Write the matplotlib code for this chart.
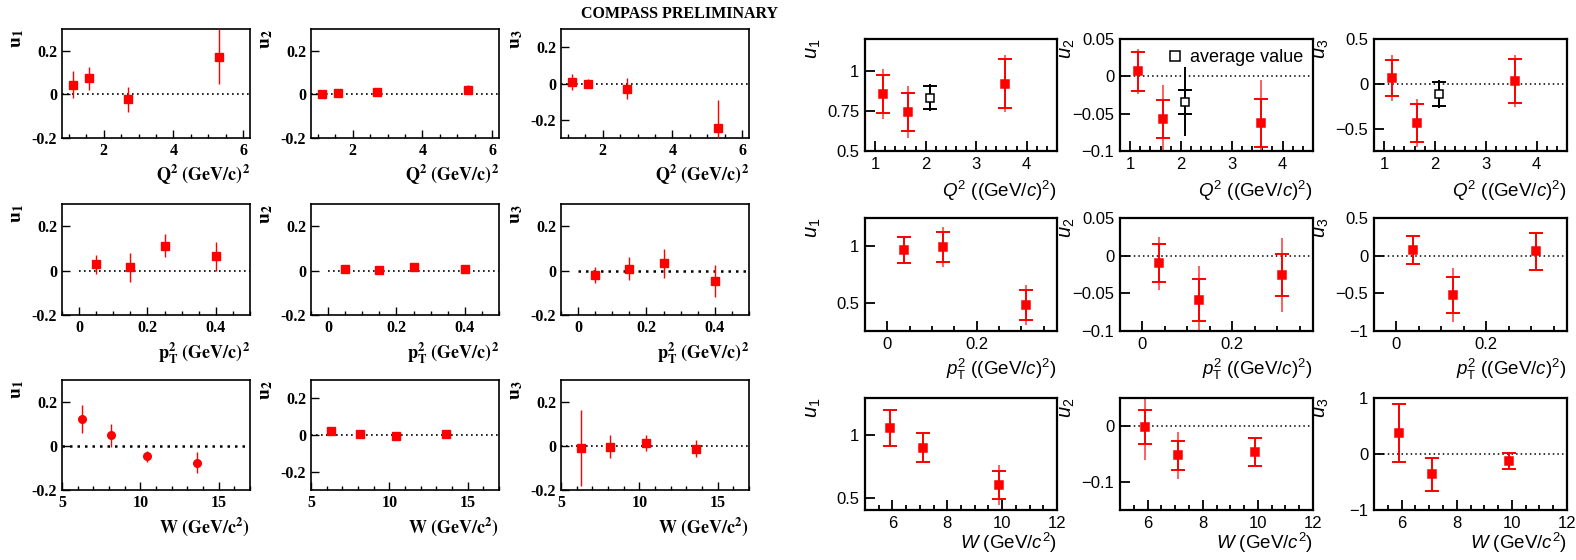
import matplotlib
matplotlib.use("Agg")
import matplotlib.pyplot as plt
from matplotlib.lines import Line2D
from matplotlib.ticker import FuncFormatter, MultipleLocator

# ---------------- left block (COMPASS preliminary) ----------------
q2_left = [1.13, 1.58, 2.71, 5.3]
u1_q2_left = [0.044, 0.073, -0.023, 0.173]
u1_q2_left_err = [0.062, 0.053, 0.057, 0.126]
u2_q2_left = [0.003, 0.008, 0.011, 0.022]
u2_q2_left_err = [0.008, 0.008, 0.008, 0.02]
u3_q2_left = [0.009, 0.0, -0.028, -0.243]
u3_q2_left_err = [0.045, 0.027, 0.06, 0.15]

pt2_left = [0.05, 0.15, 0.25, 0.4]
u1_pt2_left = [0.028, 0.014, 0.113, 0.064]
u1_pt2_left_err = [0.042, 0.065, 0.053, 0.065]
u2_pt2_left = [0.007, 0.004, 0.017, 0.005]
u2_pt2_left_err = [0.007, 0.007, 0.008, 0.01]
u3_pt2_left = [-0.021, 0.009, 0.032, -0.046]
u3_pt2_left_err = [0.035, 0.052, 0.065, 0.073]

w_left = [6.3, 8.1, 10.4, 13.6]
u1_w_left = [0.122, 0.049, -0.046, -0.075]
u1_w_left_err = [0.065, 0.052, 0.025, 0.046]
u2_w_left = [0.022, 0.005, -0.004, 0.008]
u2_w_left_err = [0.01, 0.008, 0.008, 0.008]
u3_w_left = [-0.009, -0.003, 0.014, -0.012]
u3_w_left_err = [0.174, 0.053, 0.037, 0.038]

# ---------------- right block (stat + total errors) ----------------
q2_right = [1.16, 1.65, 3.58]
q2_avg = [2.08]
u1_q2 = [0.858, 0.742, 0.92]
u1_q2_stat = [0.118, 0.118, 0.153]
u1_q2_tot = [0.155, 0.163, 0.177]
u1_q2_avg, u1_q2_avg_stat, u1_q2_avg_tot = [0.833], [0.071], [0.085]
u2_q2 = [0.007, -0.057, -0.063]
u2_q2_stat = [0.026, 0.025, 0.032]
u2_q2_tot = [0.03, 0.045, 0.058]
u2_q2_avg, u2_q2_avg_stat, u2_q2_avg_tot = [-0.034], [0.016], [0.046]
u3_q2 = [0.066, -0.438, 0.036]
u3_q2_stat = [0.2, 0.217, 0.246]
u3_q2_tot = [0.255, 0.27, 0.29]
u3_q2_avg, u3_q2_avg_stat, u3_q2_avg_tot = [-0.117], [0.134], [0.155]

pt2_right = [0.037, 0.125, 0.31]
u1_pt2 = [0.967, 0.991, 0.48]
u1_pt2_stat = [0.115, 0.133, 0.13]
u1_pt2_tot = [0.12, 0.175, 0.18]
u2_pt2 = [-0.010, -0.059, -0.026]
u2_pt2_stat = [0.025, 0.028, 0.028]
u2_pt2_tot = [0.035, 0.045, 0.049]
u3_pt2 = [0.07, -0.522, 0.057]
u3_pt2_stat = [0.186, 0.234, 0.248]
u3_pt2_tot = [0.19, 0.36, 0.26]

w_right = [5.91, 7.1, 9.9]
u1_w = [1.06, 0.90, 0.60]
u1_w_stat = [0.143, 0.117, 0.113]
u1_w_tot = [0.143, 0.117, 0.16]
u2_w = [-0.002, -0.052, -0.046]
u2_w_stat = [0.031, 0.026, 0.025]
u2_w_tot = [0.058, 0.042, 0.027]
u3_w = [0.38, -0.364, -0.125]
u3_w_stat = [0.515, 0.29, 0.135]
u3_w_tot = [0.515, 0.29, 0.135]

W_PX, H_PX = 1576, 560
SERIF = "Liberation Serif"
SANS = "Liberation Sans"
RED = "#ff0000"

plt.rcParams.update({
    "mathtext.fontset": "custom",
    "mathtext.rm": SANS,
    "mathtext.it": SANS + ":italic",
    "mathtext.bf": SANS + ":bold",
    "mathtext.sf": SANS,
})


def px_axes(fig, x0, x1, y0, y1):
    return fig.add_axes([x0 / W_PX, 1 - y1 / H_PX, (x1 - x0) / W_PX, (y1 - y0) / H_PX])


def hyphen_fmt(v, _):
    s = f"{v:.2f}".rstrip("0").rstrip(".")
    return "0" if s in ("-0", "0") else s


def minus_fmt(v, _):
    s = f"{v:.2f}".rstrip("0").rstrip(".")
    if s in ("-0", "0"):
        return "0"
    return s.replace("-", "\u2212")


def style_left(ax, xlim, ylim, xmajor, xminor, xlabel, ylabel, zero_from=None, zero_lw=1.2):
    ax.set_xlim(*xlim)
    ax.set_ylim(*ylim)
    ax.xaxis.set_major_locator(MultipleLocator(xmajor))
    ax.xaxis.set_minor_locator(MultipleLocator(xminor))
    ax.yaxis.set_major_locator(MultipleLocator(0.2))
    ax.xaxis.set_major_formatter(FuncFormatter(hyphen_fmt))
    ax.yaxis.set_major_formatter(FuncFormatter(hyphen_fmt))
    ax.tick_params(which="both", direction="in", top=False, right=False)
    ax.tick_params(which="major", length=6, width=1)
    ax.tick_params(which="minor", length=3, width=1)
    for lab in ax.get_xticklabels() + ax.get_yticklabels():
        lab.set_fontfamily(SERIF)
        lab.set_fontweight("bold")
        lab.set_fontsize(11.5)
    for sp in ax.spines.values():
        sp.set_linewidth(1.2)
    x_start = xlim[0] if zero_from is None else zero_from
    ax.hlines(0, x_start, xlim[1], colors="black", linestyles=(0, (1, 2)), linewidth=zero_lw, zorder=1)
    ax.set_xlabel(xlabel, loc="right", fontsize=13, math_fontfamily="stix", labelpad=3)
    ax.text(-0.24, 1.0, ylabel, transform=ax.transAxes, rotation=90, va="top", ha="center",
            fontsize=14, math_fontfamily="stix")


def style_right(ax, xlim, ylim, xmajor, xminor, yticks, xlabel, ylabel, zero=True, labelpad=5):
    ax.set_xlim(*xlim)
    ax.set_ylim(*ylim)
    ax.xaxis.set_major_locator(MultipleLocator(xmajor))
    ax.xaxis.set_minor_locator(MultipleLocator(xminor))
    ax.set_yticks(yticks)
    ax.xaxis.set_major_formatter(FuncFormatter(minus_fmt))
    ax.yaxis.set_major_formatter(FuncFormatter(minus_fmt))
    ax.tick_params(which="both", direction="in", top=False, right=False)
    ax.tick_params(which="major", length=7, width=1.3, pad=4)
    ax.tick_params(which="minor", length=3.5, width=1.3)
    for lab in ax.get_xticklabels() + ax.get_yticklabels():
        lab.set_fontfamily(SANS)
        lab.set_fontsize(12)
    for sp in ax.spines.values():
        sp.set_linewidth(1.6)
    if zero:
        ax.axhline(0, color="black", linestyle=(0, (1, 2)), linewidth=1.1, zorder=1)
    ax.set_xlabel(xlabel, loc="right", fontsize=13.5, fontfamily=SANS, labelpad=labelpad)
    ax.text(-0.27, 1.0, ylabel, transform=ax.transAxes, rotation=90, va="top", ha="center",
            fontsize=14.5)


def draw_left(ax, x, y, err, marker="s"):
    ax.errorbar(x, y, yerr=err, fmt=marker, color=RED, ms=5.5, elinewidth=1.0, capsize=0,
                zorder=3, clip_on=True)


def draw_right(ax, x, y, stat, tot, color=RED, light="#ff6060", filled=True):
    ax.errorbar(x, y, yerr=tot, fmt="none", ecolor=light, elinewidth=1.4, capsize=0, zorder=2)
    ax.errorbar(x, y, yerr=stat, fmt="none", ecolor=color, elinewidth=1.4, capsize=5,
                capthick=1.4, zorder=3)
    ax.plot(x, y, "s", color=color, ms=6,
            mfc=color if filled else "white", mew=1.1, zorder=4)


fig = plt.figure(figsize=(W_PX / 100, H_PX / 100), dpi=100)

# block geometry (pixels)
lcols = [(62, 250), (311, 499), (561, 749)]
lrows = [(29, 138), (204, 315), (380, 490)]
rcols = [(865, 1057), (1120, 1313), (1374, 1567)]
rrows = [(39, 151), (218, 331), (398, 510)]

lab_q2 = r"$\mathbf{Q^2\ (GeV/c)^2}$"
lab_pt = r"$\mathbf{p_T^2\ (GeV/c)^2}$"
lab_w = r"$\mathbf{W\ (GeV/c^2)}$"
ulabs_left = [r"$\mathbf{u_1}$", r"$\mathbf{u_2}$", r"$\mathbf{u_3}$"]

left_rows = [
    (q2_left, [(u1_q2_left, u1_q2_left_err), (u2_q2_left, u2_q2_left_err), (u3_q2_left, u3_q2_left_err)],
     (0.8, 6.2), 2, 0.5, lab_q2, [(-0.2, 0.3), (-0.2, 0.3), (-0.3, 0.3)], None),
    (pt2_left, [(u1_pt2_left, u1_pt2_left_err), (u2_pt2_left, u2_pt2_left_err), (u3_pt2_left, u3_pt2_left_err)],
     (-0.05, 0.5), 0.2, 0.05, lab_pt, [(-0.2, 0.3), (-0.2, 0.3), (-0.2, 0.3)], 0.0),
    (w_left, [(u1_w_left, u1_w_left_err), (u2_w_left, u2_w_left_err), (u3_w_left, u3_w_left_err)],
     (5, 17), 5, 1, lab_w, [(-0.2, 0.3), (-0.3, 0.3), (-0.2, 0.3)], None),
]

for r, (xv, series, xlim, xmaj, xmin, xlab, ylims, zfrom) in enumerate(left_rows):
    for c, (yv, ev) in enumerate(series):
        ax = px_axes(fig, lcols[c][0], lcols[c][1], lrows[r][0], lrows[r][1])
        marker = "o" if (r == 2 and c == 0) else "s"
        zlw = 1.8 if (r == 2 and c == 0) or (r == 1 and c == 2) else 1.2
        style_left(ax, xlim, ylims[c], xmaj, xmin, xlab, ulabs_left[c], zero_from=zfrom, zero_lw=zlw)
        draw_left(ax, xv, yv, ev, marker)

fig.text(680 / W_PX, 1 - 14 / H_PX, "COMPASS PRELIMINARY", ha="center", va="center",
         fontfamily=SERIF, fontweight="bold", fontsize=11.5)

# right block
rlab_q2 = r"$Q^2$ ((GeV/$c$)$^2$)"
rlab_pt = r"$p_\mathrm{T}^2$ ((GeV/$c$)$^2$)"
rlab_w = r"$W$ (GeV/$c^2$)"
ulabs_right = [r"$u_1$", r"$u_2$", r"$u_3$"]

right_rows = [
    (q2_right, [(u1_q2, u1_q2_stat, u1_q2_tot), (u2_q2, u2_q2_stat, u2_q2_tot), (u3_q2, u3_q2_stat, u3_q2_tot)],
     (0.8, 4.6), 1, 0.2, rlab_q2,
     [((0.5, 1.2), [0.5, 0.75, 1]), ((-0.1, 0.05), [-0.1, -0.05, 0, 0.05]), ((-0.75, 0.5), [-0.5, 0, 0.5])],
     [(u1_q2_avg, u1_q2_avg_stat, u1_q2_avg_tot), (u2_q2_avg, u2_q2_avg_stat, u2_q2_avg_tot),
      (u3_q2_avg, u3_q2_avg_stat, u3_q2_avg_tot)], 5),
    (pt2_right, [(u1_pt2, u1_pt2_stat, u1_pt2_tot), (u2_pt2, u2_pt2_stat, u2_pt2_tot), (u3_pt2, u3_pt2_stat, u3_pt2_tot)],
     (-0.05, 0.38), 0.2, 0.05, rlab_pt,
     [((0.25, 1.25), [0.5, 1]), ((-0.1, 0.05), [-0.1, -0.05, 0, 0.05]), ((-1, 0.5), [-1, -0.5, 0, 0.5])],
     None, 4),
    (w_right, [(u1_w, u1_w_stat, u1_w_tot), (u2_w, u2_w_stat, u2_w_tot), (u3_w, u3_w_stat, u3_w_tot)],
     (5, 12), 2, 0.5, rlab_w,
     [((0.4, 1.3), [0.5, 1]), ((-0.15, 0.05), [-0.1, 0]), ((-1, 1), [-1, 0, 1])],
     None, 0.5),
]

for r, (xv, series, xlim, xmaj, xmin, xlab, ycfg, avgs, lpad) in enumerate(right_rows):
    for c, (yv, st, tt) in enumerate(series):
        ax = px_axes(fig, rcols[c][0], rcols[c][1], rrows[r][0], rrows[r][1])
        ylim, yt = ycfg[c]
        style_right(ax, xlim, ylim, xmaj, xmin, yt, xlab, ulabs_right[c], zero=(c != 0), labelpad=lpad)
        draw_right(ax, xv, yv, st, tt)
        if avgs is not None:
            ay, ast, att = avgs[c]
            draw_right(ax, q2_avg, ay, ast, att, color="black", light="black", filled=False)
            if c == 1:
                h = Line2D([], [], marker="s", color="black", mfc="white", ms=6.5, mew=1.1, linestyle="none")
                ax.legend([h], ["average value"], loc="upper right", frameon=False,
                          handlelength=0.8, handletextpad=0.4, borderaxespad=0.15,
                          prop={"family": SANS, "size": 13})

fig.savefig("out.png", dpi=100)
